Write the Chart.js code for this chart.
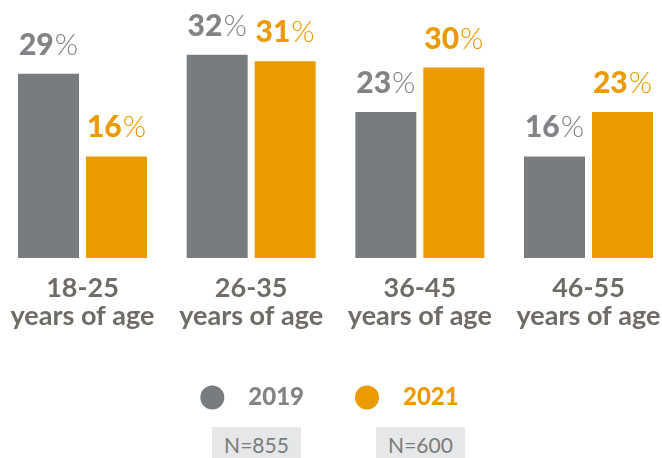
<!DOCTYPE html>
<html>
<head>
<meta charset="utf-8">
<script src="https://cdn.jsdelivr.net/npm/chart.js@4.4.1/dist/chart.umd.min.js"></script>
<style>
  html, body { margin: 0; padding: 0; background: #fff; }
  #wrap { position: relative; width: 662px; height: 458px; overflow: hidden; }
  .nbox {
    position: absolute; top: 427px; width: 89px; height: 36px;
    background: #e6e7e8; color: #7b7b7b;
    font: 21px Lato, sans-serif; line-height: 36px; text-align: center;
  }
</style>
</head>
<body>
<div id="wrap">
  <canvas id="ageChart" width="662" height="458"></canvas>
  <div class="nbox" id="n0" style="left:212px"></div>
  <div class="nbox" id="n1" style="left:376px"></div>
</div>
<script>
// survey share by age group, two waves
const ageGroups = [
  ['18-25', 'years of age'],
  ['26-35', 'years of age'],
  ['36-45', 'years of age'],
  ['46-55', 'years of age']
];
const years = ['2019', '2021'];
const share2019 = [29, 32, 23, 16];
const share2021 = [16, 31, 30, 23];
const sampleSizes = [855, 600];

const barColors = ['#797c7f', '#eb9a00'];
const textColors = ['#818386', '#eb9a00'];

// number + "%" above every bar
const valueLabels = {
  id: 'valueLabels',
  afterDatasetsDraw(chart) {
    const ctx = chart.ctx;
    chart.data.datasets.forEach((ds, i) => {
      chart.getDatasetMeta(i).data.forEach((bar, j) => {
        const num = String(ds.data[j]);
        ctx.save();
        ctx.font = '900 30px Lato';
        const wNum = ctx.measureText(num).width;
        ctx.font = '300 30px Lato';
        const wPct = ctx.measureText('%').width;
        const x = bar.x - (wNum + wPct + 1) / 2;
        const y = bar.y - 19;
        ctx.fillStyle = textColors[i];
        ctx.textAlign = 'left';
        ctx.textBaseline = 'alphabetic';
        ctx.font = '900 30px Lato';
        ctx.fillText(num, x, y);
        ctx.font = '300 30px Lato';
        ctx.fillText('%', x + wNum + 1, y);
        ctx.restore();
      });
    });
  }
};

sampleSizes.forEach((n, i) => {
  document.getElementById('n' + i).textContent = 'N=' + n;
});

function draw() {
  new Chart(document.getElementById('ageChart'), {
    type: 'bar',
    data: {
      labels: ageGroups,
      datasets: [
        { label: years[0], data: share2019, backgroundColor: barColors[0] },
        { label: years[1], data: share2021, backgroundColor: barColors[1] }
      ]
    },
    options: {
      responsive: false,
      animation: false,
      categoryPercentage: 0.8063,
      barPercentage: 0.897,
      clip: false,
      layout: { padding: { top: 0, left: 82.5, right: 73.5, bottom: 38.5 } },
      scales: {
        x: {
          offset: false,
          grid: { display: false, drawTicks: false },
          border: { display: false },
          ticks: {
            autoSkip: false,
            maxRotation: 0,
            padding: 16.6,
            color: '#6f6c67',
            font: { family: 'Lato', size: 27, weight: 'bold', lineHeight: 1.04 }
          },
          afterFit(scale) {
            scale.height = 76.5;
            scale.paddingLeft = 0;
            scale.paddingRight = 0;
          }
        },
        y: { display: false, min: 0, max: 40.63 }
      },
      plugins: {
        tooltip: { enabled: false },
        legend: {
          position: 'bottom',
          labels: {
            usePointStyle: true,
            pointStyle: 'circle',
            pointStyleWidth: 24,
            boxHeight: 17,
            padding: 51,
            font: { family: 'Lato', size: 24, weight: '900' },
            generateLabels(chart) {
              const last = chart.data.datasets.length - 1;
              return chart.data.datasets.map((ds, i) => ({
                // en spaces: gap after the dot, and a bit of slack on the last item
                text: '\u2002' + ds.label + (i === last ? '\u2002' : ''),
                fillStyle: barColors[i],
                strokeStyle: barColors[i],
                lineWidth: 0,
                fontColor: textColors[i],
                pointStyle: 'circle',
                datasetIndex: i,
                hidden: false
              }));
            }
          }
        }
      }
    },
    plugins: [valueLabels]
  });
}

Promise.all([
  document.fonts.load('900 30px Lato'),
  document.fonts.load('300 30px Lato'),
  document.fonts.load('bold 27px Lato'),
  document.fonts.load('21px Lato')
]).then(draw, draw);
</script>
</body>
</html>
